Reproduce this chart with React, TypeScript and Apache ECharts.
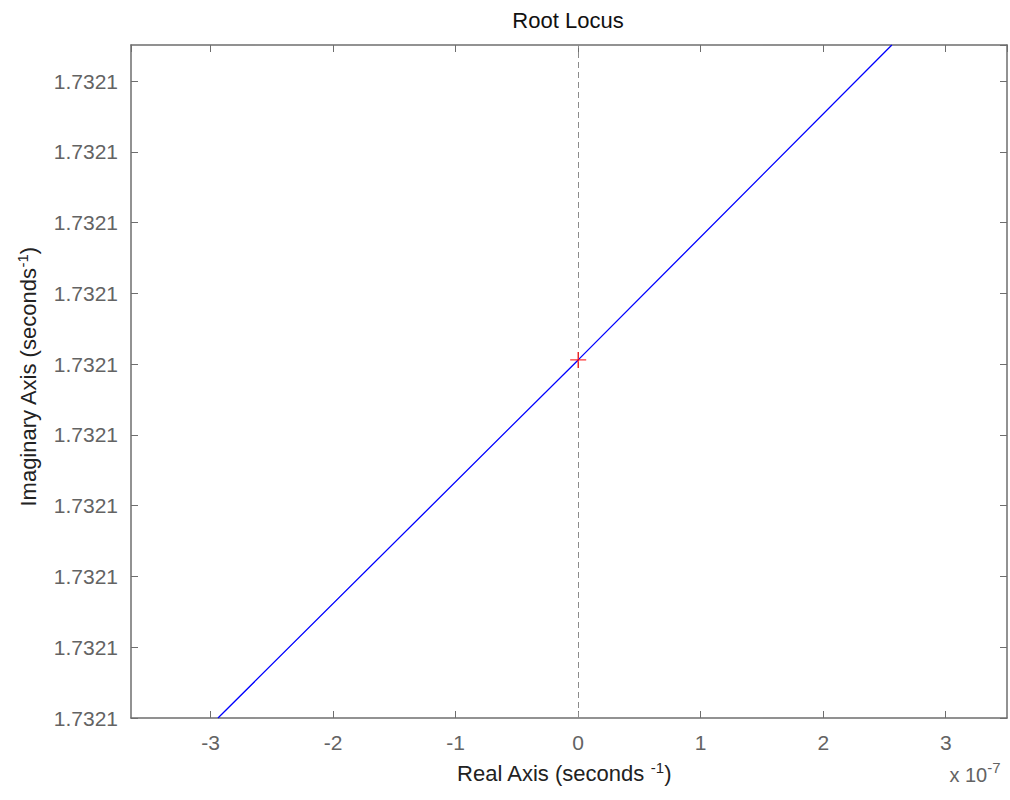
import React, { useEffect, useRef } from "react";
import * as echarts from "echarts";

// Real axis values in units of 1e-7 s^-1; imaginary axis as tick-step offsets (all labels read 1.7321)
const locusX = [-2.94, 0, 2.56];
const locusY = [0, 5.06, 9.51];
const poleX = [0];
const poleY = [5.06];
const yTickLabel = "1.7321";
const xRange = [-3.65, 3.5];
const yRange = [0, 9.51];

const FONT = "Liberation Sans, Arial, Helvetica, sans-serif";
const AXIS_COLOR = "#6e6e6e";
const LABEL_COLOR = "#636363";

export default function App() {
  const ref = useRef<HTMLDivElement>(null);
  useEffect(() => {
    if (!ref.current) return;
    const chart = echarts.init(ref.current, undefined, { renderer: "svg" });
    const axisLine = { show: true, onZero: false, lineStyle: { color: AXIS_COLOR, width: 1.5 } };
    const axisTick = { show: true, inside: true, length: 7, lineStyle: { color: AXIS_COLOR, width: 1 } };
    const xFmt = (v: number) => (Math.abs(v - Math.round(v)) < 1e-6 ? String(Math.round(v)) : "");
    const yFmt = (v: number) => (Math.abs(v - Math.round(v)) < 1e-6 ? yTickLabel : "");
    chart.setOption({
      animation: false,
      grid: { left: 131, right: 3, top: 45, bottom: 82, containLabel: false },
      xAxis: [
        {
          type: "value",
          position: "bottom",
          min: xRange[0],
          max: xRange[1],
          splitNumber: 7,
          axisLine,
          axisTick,
          splitLine: { show: false },
          axisLabel: {
            formatter: xFmt,
            showMinLabel: false,
            showMaxLabel: false,
            color: LABEL_COLOR,
            fontSize: 21,
            fontFamily: FONT,
            margin: 14,
          },
        },
        {
          type: "value",
          position: "top",
          min: xRange[0],
          max: xRange[1],
          splitNumber: 7,
          axisLine,
          axisTick,
          splitLine: { show: false },
          axisLabel: { show: false },
        },
      ],
      yAxis: [
        {
          type: "value",
          position: "left",
          min: yRange[0],
          max: yRange[1],
          interval: 1,
          axisLine,
          axisTick,
          splitLine: { show: false },
          axisLabel: {
            formatter: yFmt,
            showMaxLabel: false,
            color: LABEL_COLOR,
            fontSize: 21,
            fontFamily: FONT,
            margin: 13,
          },
        },
        {
          type: "value",
          position: "right",
          min: yRange[0],
          max: yRange[1],
          interval: 1,
          axisLine,
          axisTick,
          splitLine: { show: false },
          axisLabel: { show: false },
        },
      ],
      series: [
        {
          type: "line",
          data: locusX.map((x, i) => [x, locusY[i]]),
          showSymbol: false,
          lineStyle: { color: "#0000ff", width: 1.3 },
          silent: true,
          markLine: {
            silent: true,
            symbol: "none",
            label: { show: false },
            lineStyle: { color: "#8c8c8c", type: [6, 4], width: 1 },
            data: [{ xAxis: 0 }],
          },
        },
        {
          type: "scatter",
          data: poleX.map((x, i) => [x, poleY[i]]),
          symbol: "path://M7.3,0H8.7V7.3H16V8.7H8.7V16H7.3V8.7H0V7.3H7.3Z",
          symbolSize: 16,
          itemStyle: { color: "#ff0000" },
          silent: true,
          z: 5,
        },
      ],
      graphic: [
        {
          type: "text",
          x: 568,
          y: 20,
          style: {
            text: "Root Locus",
            align: "center",
            verticalAlign: "middle",
            fontSize: 22,
            fontFamily: FONT,
            fill: "#111111",
          },
        },
        {
          type: "text",
          x: 564,
          y: 773,
          style: {
            text: "{a|Real Axis (seconds }{s|-1}{a|)}",
            align: "center",
            verticalAlign: "middle",
            rich: {
              a: { fontSize: 22, fontFamily: FONT, fill: "#222222" },
              s: { fontSize: 15, fontFamily: FONT, fill: "#222222", padding: [0, 0, 11, 0] },
            },
          },
        },
        {
          type: "text",
          x: 28,
          y: 377,
          rotation: Math.PI / 2,
          style: {
            text: "{a|Imaginary Axis (seconds}{s|-1}{a|)}",
            align: "center",
            verticalAlign: "middle",
            rich: {
              a: { fontSize: 22, fontFamily: FONT, fill: "#222222" },
              s: { fontSize: 15, fontFamily: FONT, fill: "#222222", padding: [0, 0, 11, 0] },
            },
          },
        },
        {
          type: "text",
          x: 975,
          y: 775,
          style: {
            text: "{a|x 10}{s|-7}",
            align: "center",
            verticalAlign: "middle",
            rich: {
              a: { fontSize: 20, fontFamily: FONT, fill: LABEL_COLOR },
              s: { fontSize: 15, fontFamily: FONT, fill: LABEL_COLOR, padding: [0, 0, 15, 0] },
            },
          },
        },
      ],
    });
    return () => chart.dispose();
  }, []);
  return (
    <div
      ref={ref}
      style={{ position: "fixed", left: 0, top: 0, width: 1010, height: 800, background: "#ffffff" }}
    />
  );
}
